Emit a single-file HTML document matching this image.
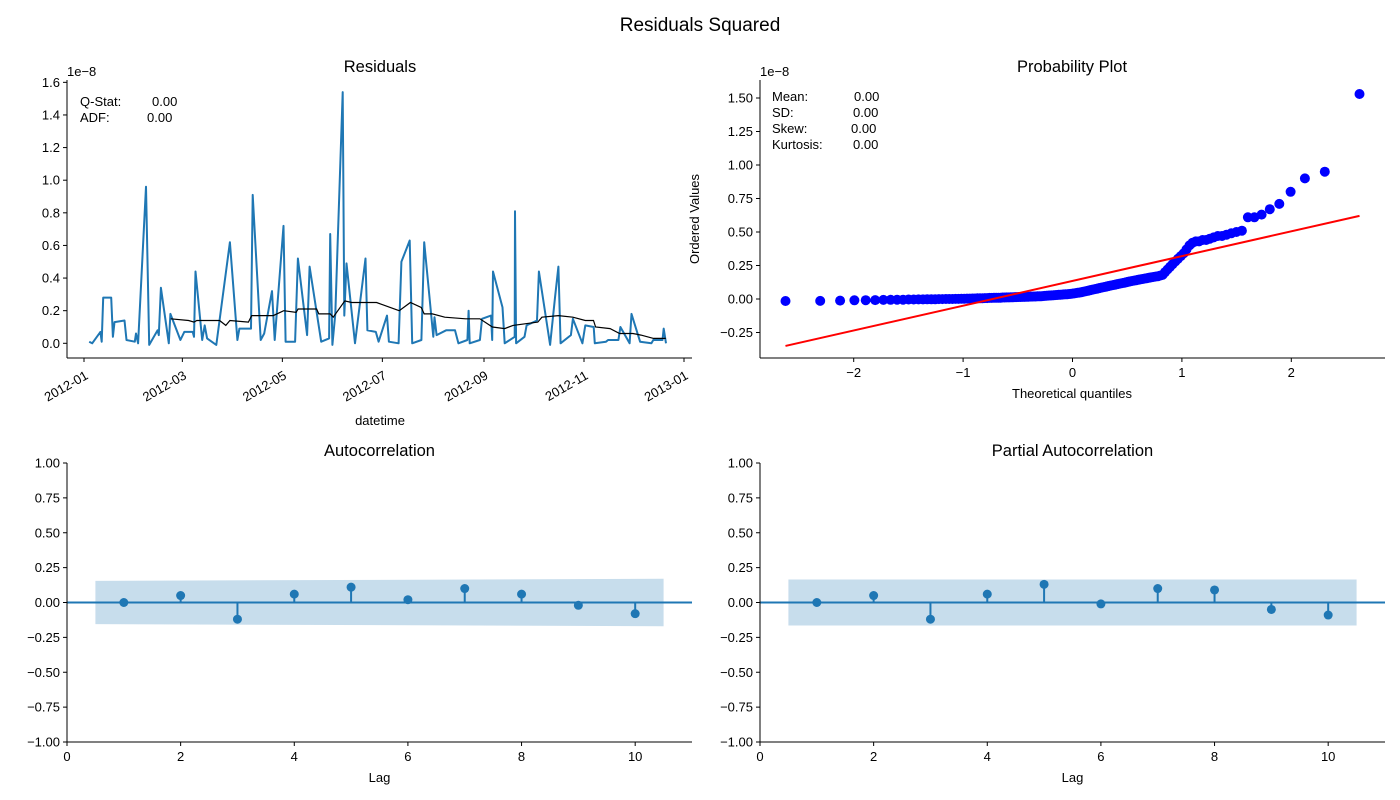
<!DOCTYPE html>
<html><head><meta charset="utf-8">
<style>
html,body{margin:0;padding:0;background:#fff;}
svg{display:block;font-family:"Liberation Sans","DejaVu Sans",sans-serif;}
text{fill:#000;white-space:pre;}
</style></head>
<body>
<svg id="fig" width="1400" height="800" viewBox="0 0 1400 800" xmlns="http://www.w3.org/2000/svg">
<rect width="1400" height="800" fill="#fff"/>
<text x="700" y="31" font-size="19" text-anchor="middle">Residuals Squared</text>
</svg>
<script>
// ---- Residuals (top-left) ----
const resDays = [3.2,5,10,10.8,11.7,16.6,17.6,18.6,24.7,25.9,31,31.7,33,37.8,39.8,44.9,45.6,46.9,51.7,52.7,58.8,61.2,66.3,67.1,68,72.1,73.6,75.1,80.7,89,93.6,94.8,101.9,102.9,107.8,109.9,114.7,116.3,121.7,123,128.8,130.5,136.1,137.6,144.7,149.5,150.2,151.5,153.3,157.8,158.8,160.1,165.3,171.7,172.9,178,179.7,184.8,186,191.9,193.6,198.7,200.2,205.8,207.5,213.1,213.8,215.1,220.9,226.3,228.4,233.9,234.6,235.3,241.5,242.8,248.3,249,249.5,255.3,256.6,262.7,262.9,263.6,268.7,270,276.3,277.5,284.3,287.3,289.4,290.7,297,298.2,304,305.8,310.9,311.6,318.4,319.7,326,327.2,332.8,334,339.2,346.1,347.3,352.9,353.6,355];
const resVals = [0.01,0,0.07,0.01,0.28,0.28,0.04,0.13,0.14,0.02,0.01,0.06,0,0.96,-0.01,0.08,0.05,0.34,0,0.18,0.02,0.07,0.07,0.04,0.44,0.02,0.11,0.03,-0.01,0.62,0.02,0.09,0.09,0.91,0.02,0.06,0.32,0.02,0.72,0.01,0.01,0.52,0.05,0.47,0.01,0.03,0.67,-0.01,0.18,1.54,0.17,0.49,0,0.52,0.08,0.07,0.01,0.17,0.01,0,0.5,0.63,0,0.02,0.62,0.04,0.16,0.05,0.08,0.08,0,0.02,0.2,0,0.02,0.15,0.17,0.02,0.44,0.22,0,0.04,0.81,0,0.04,0.11,0.14,0.44,-0.01,0.28,0.47,0,0.05,0.15,0,0.11,0.1,0,0.01,0.02,0.02,0.1,0,0.18,0.01,0,0.02,0.02,0.09,0];
const rollDays = [52.9,63.8,67.1,68.8,82.7,86.5,89,100.3,102.3,115.5,121.8,129.3,130.6,141.9,143.2,150.2,152,159.1,163.3,178.5,192.3,199.1,205.7,207.5,212.5,220.1,232.7,241.5,249.1,256.6,261.7,276.8,279.3,289.4,298.2,305.8,310.8,312.1,320.9,326.7,334.8,339.8,347.4,354.9];
const rollVals = [0.15,0.14,0.13,0.14,0.14,0.11,0.14,0.13,0.17,0.17,0.2,0.19,0.21,0.21,0.18,0.18,0.16,0.26,0.25,0.25,0.2,0.25,0.22,0.18,0.18,0.16,0.15,0.15,0.1,0.09,0.11,0.13,0.16,0.17,0.16,0.14,0.14,0.1,0.09,0.06,0.06,0.05,0.03,0.03];
const resYTicks = [0.0,0.2,0.4,0.6,0.8,1.0,1.2,1.4,1.6];
const dateTickDays = [0,60,121,182,244,305,366];
const dateTickLabels = ["2012-01","2012-03","2012-05","2012-07","2012-09","2012-11","2013-01"];
// ---- Probability plot ----
const ordered = [-0.015,-0.014,-0.012,-0.010,-0.009,-0.008,-0.007,-0.006,-0.005,-0.005,-0.004,-0.004,-0.003,-0.003,-0.002,-0.002,-0.002,-0.001,-0.001,0,0,0,0.001,0.001,0.002,0.002,0.003,0.003,0.004,0.004,0.005,0.005,0.006,
0.007,0.007,0.008,0.008,0.009,0.009,0.010,0.010,0.011,0.011,0.012,0.012,0.013,0.013,0.014,0.014,0.015,0.015,0.016,0.016,0.017,0.017,0.018,0.018,0.019,0.019,0.020,0.020,0.021,0.022,0.023,0.024,0.025,0.026,0.027,0.028,0.029,0.030,0.031,0.032,0.033,0.034,0.035,0.036,0.037,0.038,0.040,
0.042,0.044,0.046,0.048,0.050,0.053,0.056,0.059,0.062,0.065,0.068,0.071,0.074,0.077,0.080,0.083,0.086,0.089,0.092,0.095,0.098,0.101,0.104,0.107,0.110,0.113,0.116,0.119,0.122,0.125,0.128,
0.131,0.134,0.137,0.14,0.143,0.146,0.149,0.152,0.155,0.158,0.161,0.164,0.167,0.17,0.175,0.18,
0.20,0.22,0.24,0.26,0.28,0.30,0.32,0.34,0.37,0.40,0.42,
0.43,0.43,0.44,0.44,0.45,0.46,0.47,0.47,0.48,0.49,0.50,0.51,
0.61,0.61,0.63,0.67,0.71,0.80,0.90,0.95,1.53];
const fitSlope = [0.185];
const fitIntercept = [0.135];
const ppXTicks = [-2,-1,0,1,2];
const ppYTicks = [-0.25,0.00,0.25,0.50,0.75,1.00,1.25,1.50];
// ---- ACF / PACF ----
const lags = [1,2,3,4,5,6,7,8,9,10];
const acfVals = [0.00,0.05,-0.12,0.06,0.11,0.02,0.10,0.06,-0.02,-0.08];
const acfConfLo = [0.155,0.17];
const pacfVals = [0.00,0.05,-0.12,0.06,0.13,-0.01,0.10,0.09,-0.05,-0.09];
const pacfConf = [0.165,0.165];
const corrYTicks = [-1.00,-0.75,-0.50,-0.25,0.00,0.25,0.50,0.75,1.00];
const lagTicks = [0,2,4,6,8,10];

const NS="http://www.w3.org/2000/svg";
const fig=document.getElementById('fig');
function mk(tag,attrs,parent){const e=document.createElementNS(NS,tag);for(const k in attrs)e.setAttribute(k,attrs[k]);(parent||fig).appendChild(e);return e;}
function txt(s,attrs,parent){const e=mk('text',attrs,parent);e.textContent=s;return e;}
const BLUE="#1f77b4";

function axesFrame(g,x0,x1,y0,y1){
  const l=mk('line',{x1:x0,y1:y0,x2:x0,y2:y1,stroke:'#000','stroke-width':1},g);
  
  
  const b=mk('line',{x1:x0,y1:y1,x2:x1,y2:y1,stroke:'#000','stroke-width':1},g);
  
  
}
function yTicks(g,x0,ticks,sy,fmt){
  ticks.forEach(t=>{const y=sy(t);
    const tk=mk('line',{x1:x0-4,y1:y,x2:x0,y2:y,stroke:'#000'},g);
    
    
    const lb=txt(fmt(t),{x:x0-7,y:y+4.5,'font-size':13,'text-anchor':'end'},g);
    
    
  });
}
function xTicks(g,y1,ticks,sx,fmt){
  ticks.forEach(t=>{const x=sx(t);
    const tk=mk('line',{x1:x,y1:y1,x2:x,y2:y1+4,stroke:'#000'},g);
    
    
    const lb=txt(fmt(t),{x:x,y:y1+19,'font-size':13,'text-anchor':'middle'},g);
    
    
  });
}
function minus(s){return s.replace('-','\u2212');}

// ===== Residuals panel =====
(function(){
  const g=mk('g',{});
  
  
  const x0=67,x1=692,y0=80,y1=358;
  const sx=d=>84+d*600/366, sy=v=>343.3-v*163.1;
  let p=resDays.map((d,i)=>(i?'L':'M')+sx(d).toFixed(1)+' '+sy(resVals[i]).toFixed(1)).join('');
  const ln=mk('path',{d:p,fill:'none',stroke:BLUE,'stroke-width':2,'stroke-linejoin':'round'},g);
  
  
  p=rollDays.map((d,i)=>(i?'L':'M')+sx(d).toFixed(1)+' '+sy(rollVals[i]).toFixed(1)).join('');
  const rl=mk('path',{d:p,fill:'none',stroke:'#000','stroke-width':1.2},g);
  
  
  axesFrame(g,x0,x1,y0,y1);
  yTicks(g,x0,resYTicks,sy,t=>t.toFixed(1));
  dateTickDays.forEach((d,i)=>{const x=sx(d);
    const tk=mk('line',{x1:x,y1:y1,x2:x,y2:y1+4,stroke:'#000'},g);
    
    
    const ax=x+5, ay=y1+20;
    const lb=txt(dateTickLabels[i],{x:ax,y:ay,'font-size':13,'text-anchor':'end',transform:`rotate(-30 ${ax} ${ay})`},g);
    
    
  });
  const t=txt('Residuals',{x:380,y:72,'font-size':16.5,'text-anchor':'middle'},g);
  
  
  const o=txt('1e\u22128',{x:67,y:76,'font-size':13},g);
  
  
  const xl=txt('datetime',{x:380,y:425,'font-size':13,'text-anchor':'middle'},g);
  
  
  const s1=txt('Q-Stat:',{x:80,y:106,'font-size':13},g);
  
  
  const s1v=txt('0.00',{x:152,y:106,'font-size':13},g);
  
  
  const s2=txt('ADF:',{x:80,y:122,'font-size':13},g);
  
  
  const s2v=txt('0.00',{x:147,y:122,'font-size':13},g);
  
  
})();

// ===== Probability plot =====
function invNorm(p){const a=[-39.6968302866538,220.946098424521,-275.928510446969,138.357751867269,-30.6647980661472,2.50662827745924],b=[-54.4760987982241,161.585836858041,-155.698979859887,66.8013118877197,-13.2806815528857],c=[-0.00778489400243029,-0.322396458041136,-2.40075827716184,-2.54973253934373,4.37466414146497,2.93816398269878],d=[0.00778469570904146,0.32246712907004,2.445134137143,3.75440866190742];const pl=0.02425;let q,r;if(p<pl){q=Math.sqrt(-2*Math.log(p));return(((((c[0]*q+c[1])*q+c[2])*q+c[3])*q+c[4])*q+c[5])/((((d[0]*q+d[1])*q+d[2])*q+d[3])*q+1);}if(p>1-pl){q=Math.sqrt(-2*Math.log(1-p));return-(((((c[0]*q+c[1])*q+c[2])*q+c[3])*q+c[4])*q+c[5])/((((d[0]*q+d[1])*q+d[2])*q+d[3])*q+1);}q=p-0.5;r=q*q;return(((((a[0]*r+a[1])*r+a[2])*r+a[3])*r+a[4])*r+a[5])*q/(((((b[0]*r+b[1])*r+b[2])*r+b[3])*r+b[4])*r+1);}
(function(){
  const g=mk('g',{});
  
  
  const x0=760,x1=1385,y0=80,y1=358;
  const sx=q=>1072.5+q*109.4, sy=v=>299-v*134;
  const n=ordered.length;
  ordered.forEach((v,i)=>{
    let m;const last=Math.pow(0.5,1/n);
    if(i===n-1)m=last;else if(i===0)m=1-last;else m=(i+1-0.3175)/(n+0.365);
    const c=mk('circle',{cx:sx(invNorm(m)).toFixed(1),cy:sy(v).toFixed(1),r:5,fill:'#0000ff'},g);
    
    
  });
  const qa=invNorm(1-Math.pow(0.5,1/n)), qb=-qa;
  const fl=mk('line',{x1:sx(qa),y1:sy(fitIntercept[0]+fitSlope[0]*qa),x2:sx(qb),y2:sy(fitIntercept[0]+fitSlope[0]*qb),stroke:'#ff0000','stroke-width':2},g);
  
  
  axesFrame(g,x0,x1,y0,y1);
  yTicks(g,x0,ppYTicks,sy,t=>minus(t.toFixed(2)));
  xTicks(g,y1,ppXTicks,sx,t=>minus(String(t)));
  const t=txt('Probability Plot',{x:1072,y:72,'font-size':16.5,'text-anchor':'middle'},g);
  
  
  const o=txt('1e\u22128',{x:760,y:76,'font-size':13},g);
  
  
  const xl=txt('Theoretical quantiles',{x:1072,y:398,'font-size':13,'text-anchor':'middle'},g);
  
  
  const yl=txt('Ordered Values',{x:699,y:219,'font-size':13,'text-anchor':'middle',transform:'rotate(-90 699 219)'},g);
  
  
  const rows=[['Mean:','0.00',854],['SD:','0.00',853],['Skew:','0.00',851],['Kurtosis:','0.00',853]];
  rows.forEach((r,i)=>{
    const a=txt(r[0],{x:772,y:101+i*16,'font-size':13},g);
    
    
    const b=txt(r[1],{x:r[2],y:101+i*16,'font-size':13},g);
    
    
  });
})();

// ===== ACF / PACF =====
function corrPanel(name,title,x0,x1,vals,conf){
  const g=mk('g',{});
  
  
  const y0=463,y1=742;
  const sx=l=>x0+l*(x1-x0)/11, sy=v=>602.5-v*139.5;
  const band=mk('path',{d:`M${sx(0.5)} ${sy(conf[0])}L${sx(10.5)} ${sy(conf[1])}L${sx(10.5)} ${sy(-conf[1])}L${sx(0.5)} ${sy(-conf[0])}Z`,fill:BLUE,'fill-opacity':0.25},g);
  
  
  const z=mk('line',{x1:x0,y1:sy(0),x2:x1,y2:sy(0),stroke:BLUE,'stroke-width':2},g);
  
  
  lags.forEach((l,i)=>{
    const st=mk('line',{x1:sx(l),y1:sy(0),x2:sx(l),y2:sy(vals[i]),stroke:BLUE,'stroke-width':2},g);
    
    
    const c=mk('circle',{cx:sx(l),cy:sy(vals[i]),r:4.5,fill:BLUE},g);
    
    
  });
  axesFrame(g,x0,x1,y0,y1);
  yTicks(g,x0,corrYTicks,sy,t=>minus(t.toFixed(2)));
  xTicks(g,y1,lagTicks,sx,t=>String(t));
  const t=txt(title,{x:(x0+x1)/2,y:456,'font-size':16.5,'text-anchor':'middle'},g);
  
  
  const xl=txt('Lag',{x:(x0+x1)/2,y:782,'font-size':13,'text-anchor':'middle'},g);
  
  
}
corrPanel('autocorrelation-panel','Autocorrelation',67,692,acfVals,acfConfLo);
corrPanel('partial-autocorrelation-panel','Partial Autocorrelation',760,1385,pacfVals,pacfConf);
</script>
</body></html>
